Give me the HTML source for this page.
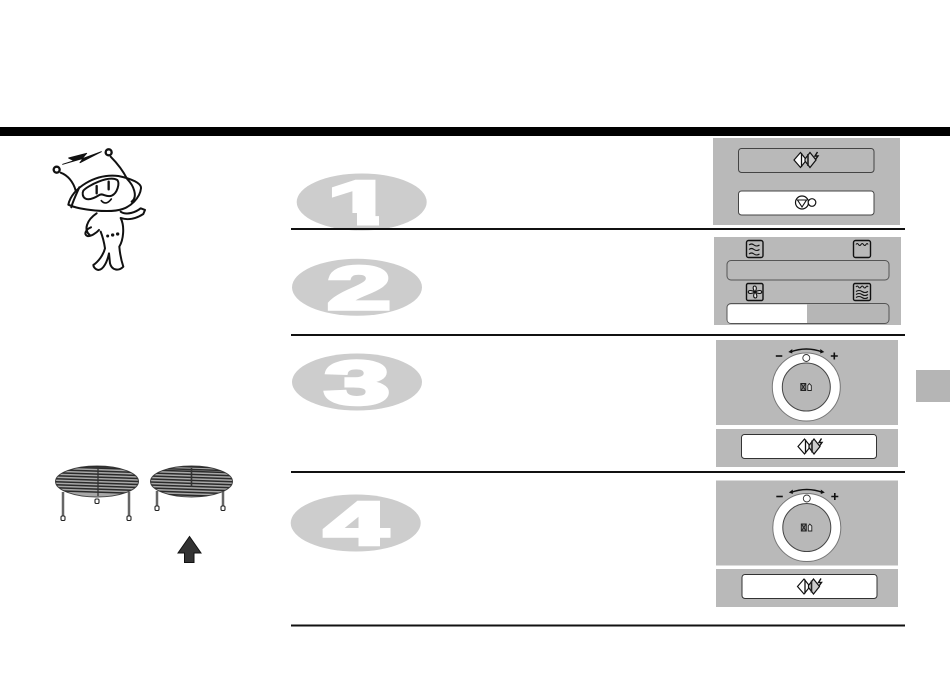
<!DOCTYPE html>
<html><head><meta charset="utf-8"><style>
html,body{margin:0;padding:0;background:#fff;width:950px;height:679px;overflow:hidden}
svg{display:block}
</style></head><body>
<svg width="950" height="679" viewBox="0 0 950 679" xmlns="http://www.w3.org/2000/svg">
<defs>
<g id="ico">
  <path d="M-11 0L-4.500-7.500L1.500 0L-4.500 7.500Z" fill="#fff" stroke="#111" stroke-width="1.200"/>
  <path d="M-3.500-7V7" stroke="#111" stroke-width="1.300"/>
  <path d="M5-7.500L11 0L5 7.500L0 1V-1Z" fill="#ccc" stroke="#111" stroke-width="1.200"/>
  <path d="M3-6V6" stroke="#222" stroke-width="1.600"/>
  <path d="M12.500-8L10-4H13L10.500-.5" fill="none" stroke="#111" stroke-width="1.400"/>
</g>
<g id="dial">
  <circle cx="0" cy="0" r="34" fill="#fff" stroke="#777" stroke-width="1"/>
  <circle cx="0" cy="0" r="24" fill="#b8b8b8" stroke="#444" stroke-width="1"/>
  <circle cx="0" cy="-29" r="3.500" fill="#fff" stroke="#333" stroke-width=".9"/>
  <path d="M-16-35Q0-41 16-35" fill="none" stroke="#111" stroke-width="1.400"/>
  <path d="M-18-35L-14-38V-33.500ZM18-35L14-38V-33.500Z" fill="#111"/>
  <path d="M-30.500-31H-24" stroke="#111" stroke-width="1.600"/>
  <path d="M24.500-31H31.500M28-34.500V-27.500" stroke="#111" stroke-width="1.600"/>
  <path d="M-5.500-3.500H-.5V3.500H-5.500ZM-5-3L-1 3M-1-3L-5 3" fill="#888" stroke="#222" stroke-width=".9"/>
  <path d="M1.500 3.500V-1.500L3-3.500L5-1.500V3.500Z" fill="#ddd" stroke="#222" stroke-width=".9"/>
</g>
<clipPath id="o1"><ellipse cx="361.700" cy="202" rx="65" ry="28.500"/></clipPath>
<clipPath id="r1"><ellipse cx="97" cy="481.500" rx="41.500" ry="15.500"/></clipPath>
<clipPath id="r2"><ellipse cx="191.500" cy="481.500" rx="41" ry="15.500"/></clipPath>
<g id="bars" stroke="#2a2a2a" stroke-width="1.500">
  <path d="M50 466.500L240 473M50 469.500L240 476M50 472.500L240 479M50 475.500L240 482M50 478.500L240 485M50 481.500L240 488M50 484.500L240 491M50 487.500L240 494M50 490.500L240 497M50 462L240 468.500M50 465L240 471"/>
</g>
</defs>

<rect x="0" y="127" width="950" height="9" fill="#000"/>

<ellipse cx="361.700" cy="202" rx="65" ry="28.500" fill="#cdcdcd"/>
<ellipse cx="357" cy="287.300" rx="65" ry="28.500" fill="#cdcdcd"/>
<ellipse cx="357" cy="382" rx="65" ry="28.500" fill="#cdcdcd"/>
<ellipse cx="355.700" cy="523" rx="65" ry="28.500" fill="#cdcdcd"/>

<g font-family="'Liberation Sans',sans-serif" font-weight="700" fill="#fff" stroke="#fff" text-anchor="middle" stroke-linejoin="miter">
  <text transform="translate(361 224) scale(2 1)" font-size="62" stroke-width="3">1</text>
  <text transform="translate(359 309) scale(1.850 .98)" font-size="62" stroke-width="3.500">2</text>
  <text transform="translate(357 404) scale(1.900 .98)" font-size="62" stroke-width="3.500">3</text>
  <text transform="translate(356 544.500) scale(1.850 .98)" font-size="62" stroke-width="3.500">4</text>
</g>
<g clip-path="url(#o1)" fill="#cdcdcd">
  <rect x="330" y="213" width="27" height="18"/>
  <rect x="379" y="213" width="30" height="18"/>
</g>

<g fill="#111">
  <rect x="291" y="228" width="614" height="2"/>
  <rect x="291" y="334" width="614" height="2"/>
  <rect x="291" y="471" width="614" height="2"/>
  <rect x="291" y="624.500" width="614" height="2"/>
</g>

<!-- panel 1 -->
<rect x="713" y="138" width="187" height="87" fill="#b9b9b9"/>
<rect x="738.500" y="148.500" width="135.500" height="24" rx="3" fill="#b9b9b9" stroke="#444" stroke-width="1"/>
<use href="#ico" transform="translate(805 160)"/>
<rect x="738.500" y="191" width="135.500" height="24" rx="3" fill="#fff" stroke="#444" stroke-width="1"/>
<circle cx="802" cy="202.500" r="6.500" fill="#fff" stroke="#111" stroke-width="1.200"/>
<path d="M797.500 200H806.500L802 207Z" fill="none" stroke="#111" stroke-width="1.100"/>
<circle cx="812" cy="202.500" r="3.800" fill="#fff" stroke="#111" stroke-width="1.200"/>

<!-- panel 2 -->
<rect x="714" y="237" width="187" height="88" fill="#b9b9b9"/>
<rect x="727" y="260.500" width="162" height="19.500" rx="4" fill="#b9b9b9" stroke="#555" stroke-width="1"/>
<rect x="727" y="303.500" width="162" height="20" rx="4" fill="#b6b6b6" stroke="#555" stroke-width="1"/>
<path d="M807 304.500H731Q727.500 304.500 727.500 308V319Q727.500 323 731 323H807Z" fill="#fff"/>
<g fill="none" stroke="#111">
  <rect x="746.500" y="240.500" width="16.500" height="17" rx="2" fill="#b9b9b9" stroke-width="1.400"/>
  <path d="M749 245q2.500-2 5 0t5.500 0M749 249.500q2.500-2 5 0t5.500 0M749 254q2.500-2 5 0t5.500 0" stroke-width="1.100"/>
  <rect x="853.500" y="240.500" width="17" height="17" rx="2" fill="#b9b9b9" stroke-width="1.400"/>
  <path d="M856 244.500q1.200-2 2.500 0t2.500 0 2.500 0 2.500 0 2 0" stroke-width="1.100"/>
  <rect x="746.500" y="283.500" width="16.500" height="17" rx="1.500" fill="#b9b9b9" stroke-width="1.400"/>
  <path d="M755 292C749 284 760 284 755 292C764 287 764 297 755 292C761 300 750 300 755 292C746 297 746 287 755 292Z" fill="#eee" stroke-width="1.100"/>
  <rect x="853.500" y="283.500" width="17" height="17" rx="1.500" fill="#b9b9b9" stroke-width="1.400"/>
  <path d="M856 287q1.200-2 2.500 0t2.500 0 2.500 0 2.500 0 2 0" stroke-width="1.100"/>
  <path d="M856 291.500q3-2 6 0t6 0M856 294.500q3-2 6 0t6 0M856 297.500q3-2 6 0t6 0" stroke-width="1.100"/>
</g>

<!-- panel 3 -->
<rect x="716" y="340" width="182" height="85" fill="#b9b9b9"/>
<use href="#dial" transform="translate(806.300 387)"/>
<rect x="716" y="429" width="182" height="38" fill="#b9b9b9"/>
<rect x="741.500" y="434.500" width="135" height="24" rx="3" fill="#fff" stroke="#333" stroke-width="1"/>
<use href="#ico" transform="translate(809 446.500)"/>

<!-- panel 4 -->
<rect x="716" y="480.500" width="182" height="85" fill="#b9b9b9"/>
<use href="#dial" transform="translate(806.800 527.500)"/>
<rect x="716" y="569" width="182" height="38" fill="#b9b9b9"/>
<rect x="742" y="574.500" width="135" height="24" rx="3" fill="#fff" stroke="#333" stroke-width="1"/>
<use href="#ico" transform="translate(808.500 586.500)"/>

<rect x="916" y="370" width="34" height="32" fill="#b5b5b5"/>

<!-- mascot -->
<g transform="translate(30 130) scale(.3333)" fill="none" stroke="#111" stroke-width="6" stroke-linecap="round" stroke-linejoin="round">
  <circle cx="80" cy="119" r="9" stroke-width="7"/>
  <circle cx="236" cy="67" r="9" stroke-width="7"/>
  <path d="M98 103L132 92L116 84L170 70L155 87L214 65L150 98L160 85Z" fill="#111" stroke-width="3"/>
  <path d="M92 128C112 135 130 155 137 182"/>
  <path d="M242 80C262 100 278 120 292 148"/>
  <path d="M115 224C125 175 195 130 265 138C305 146 335 160 333 175C330 205 300 230 278 237C240 250 150 240 115 224Z" fill="#fff"/>
  <path d="M148 172C138 195 128 215 124 232"/>
  <path d="M160 182C172 168 235 135 262 150C270 160 262 190 245 197C228 203 218 188 208 195C192 205 175 212 165 205C158 200 156 190 160 182Z" fill="#fff"/>
  <path d="M200 168V190M236 155V178" stroke-width="7"/>
  <path d="M214 212Q228 228 244 207" stroke-width="5"/>
  <path d="M292 148C310 165 325 200 305 215"/>
  <path d="M200 250C170 270 160 300 180 316"/>
  <path d="M183 292C168 298 160 312 172 318C182 320 198 310 207 300"/>
  <path d="M272 245C290 258 320 245 332 235L345 240L340 252C320 265 295 272 272 264C285 290 280 330 268 350C270 375 275 395 280 410C265 425 245 420 240 400L237 370C232 395 220 420 205 420C195 418 190 410 190 405C205 395 220 375 225 355C222 335 218 320 212 305"/>
  <circle cx="233" cy="318" r="3" fill="#111" stroke-width="3"/><circle cx="248" cy="315" r="3.500" fill="#111" stroke-width="3"/><circle cx="263" cy="312" r="3.500" fill="#111" stroke-width="3"/>
</g>

<!-- racks -->
<g fill="none" stroke="#666" stroke-width="2.500">
  <path d="M63 492V516M129 492V516"/>
  <path d="M157 491V507M223 491V507"/>
</g>
<g fill="#fff" stroke="#222" stroke-width="1.100">
  <rect x="61" y="516" width="4" height="4.500" rx="1.200"/>
  <rect x="127" y="516" width="4" height="4.500" rx="1.200"/>
  <rect x="95" y="499" width="4" height="4.500" rx="1.200"/>
  <rect x="155" y="506" width="4" height="4.500" rx="1.200"/>
  <rect x="221" y="506" width="4" height="4.500" rx="1.200"/>
</g>
<ellipse cx="97" cy="481.500" rx="41.500" ry="15.500" fill="#a8a8a8" stroke="#444" stroke-width="1"/>
<g clip-path="url(#r1)"><use href="#bars"/></g>
<path d="M98 468V496" stroke="#333" stroke-width="1.300"/>
<ellipse cx="191.500" cy="481.500" rx="41" ry="15.500" fill="#a8a8a8" stroke="#444" stroke-width="1"/>
<g clip-path="url(#r2)"><use href="#bars" transform="translate(-1 0)"/></g>
<path d="M191.500 468V487" stroke="#333" stroke-width="1.600"/>

<path d="M189.500 536.500L178 553H184.500V562.500H194V553H201Z" fill="#333" stroke="#111" stroke-width="1"/>
</svg>
</body></html>
